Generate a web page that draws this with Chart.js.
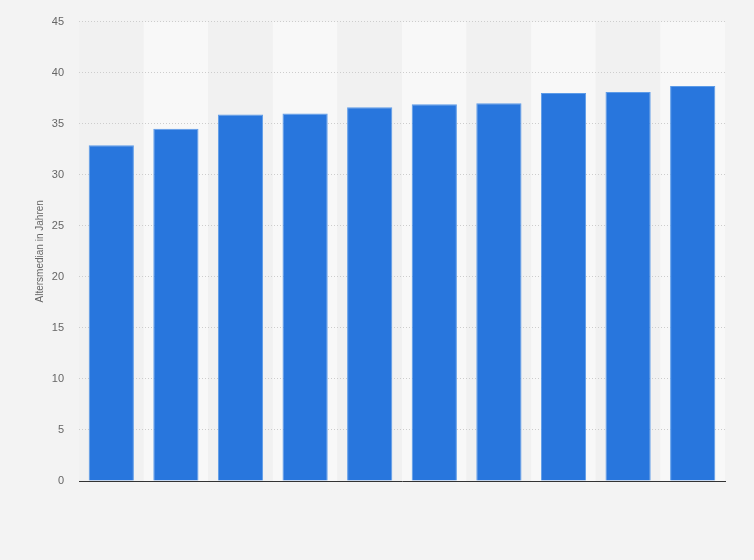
<!DOCTYPE html>
<html>
<head>
<meta charset="utf-8">
<script src="https://cdn.jsdelivr.net/npm/chart.js@4/dist/chart.umd.min.js"></script>
<style>
  html, body { margin: 0; padding: 0; background: #f3f3f3; }
  #wrap { width: 754px; height: 560px; }
</style>
</head>
<body>
<div id="wrap"><canvas id="barChart" width="754" height="560"></canvas></div>
<script>
// x labels are not shown in the picture, so these are just placeholders
const categories = ['1', '2', '3', '4', '5', '6', '7', '8', '9', '10'];
const medianAge = [32.9, 34.5, 35.9, 36.0, 36.6, 36.9, 37.0, 38.0, 38.1, 38.7];
const yTicks = [0, 5, 10, 15, 20, 25, 30, 35, 40, 45];

// page background + alternating column bands, drawn under the grid lines
const columnBands = {
  id: 'columnBands',
  beforeDraw(chart) {
    const { ctx, chartArea, scales } = chart;
    const x = scales.x;
    const w = (chartArea.right - chartArea.left) / categories.length;
    ctx.save();
    ctx.fillStyle = '#f3f3f3';
    ctx.fillRect(0, 0, chart.width, chart.height);
    categories.forEach((c, i) => {
      const cx = x.getPixelForValue(i);
      ctx.fillStyle = i % 2 ? '#f8f8f8' : '#f1f1f1';
      ctx.fillRect(cx - w / 2, chartArea.top, w, chartArea.bottom - chartArea.top);
    });
    ctx.restore();
  }
};

const ctx = document.getElementById('barChart').getContext('2d');
const barChart = new Chart(ctx, {
  type: 'bar',
  data: {
    labels: categories,
    datasets: [{
      label: 'Altersmedian in Jahren',
      data: medianAge,
      backgroundColor: '#2876dd',
      borderColor: '#5c9be8',
      borderWidth: 1,
      barPercentage: 0.7,
      categoryPercentage: 1
    }]
  },
  plugins: [columnBands],
  options: {
    responsive: false,
    animation: false,
    layout: { padding: { left: 0, right: 29, top: 20, bottom: 79 } },
    plugins: {
      legend: { display: false },
      tooltip: { enabled: false }
    },
    scales: {
      x: {
        ticks: { display: false },
        grid: { display: false, drawTicks: false },
        border: { display: true, color: '#333333', width: 1 }
      },
      y: {
        min: 0,
        max: 45,
        afterFit: s => { s.width = 79; },
        afterBuildTicks: s => { s.ticks = yTicks.map(v => ({ value: v })); },
        border: { display: false, dash: [1, 2] },
        grid: {
          color: '#cdcdcd',
          lineWidth: 1,
          drawTicks: false
        },
        ticks: {
          color: '#666666',
          padding: 15,
          font: { family: 'Liberation Sans, Arial, sans-serif', size: 11 }
        },
        title: {
          display: true,
          text: 'Altersmedian in Jahren',
          color: '#666666',
          padding: { top: 34, bottom: 0 },
          font: { family: 'Liberation Sans, Arial, sans-serif', size: 10 }
        }
      }
    }
  }
});
</script>
</body>
</html>
